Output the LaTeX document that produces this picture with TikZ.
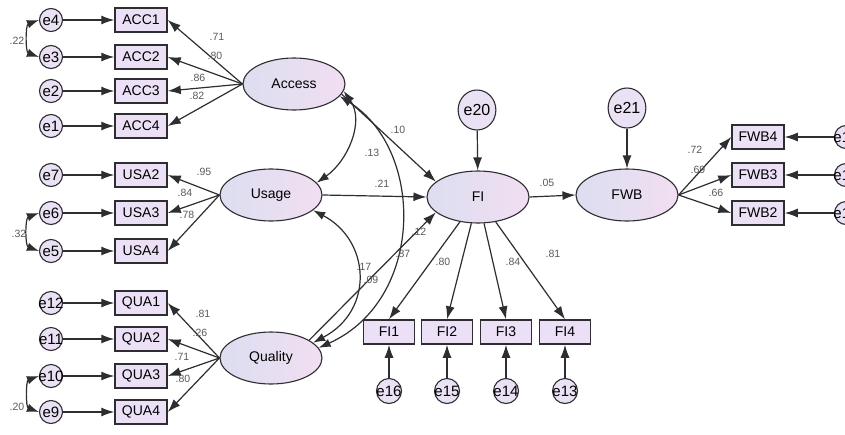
\documentclass[tikz,border=0pt]{standalone}
\usepackage{fontspec}
\setmainfont{Liberation Sans}
\usepackage{tikz}
\usetikzlibrary{positioning,shapes.geometric,arrows.meta}

\definecolor{edge}{RGB}{45,45,50}
\definecolor{boxfill}{RGB}{236,224,246}
\definecolor{ovalL}{RGB}{220,222,240}
\definecolor{ovalR}{RGB}{242,222,242}
\definecolor{errfill}{RGB}{234,226,244}
\definecolor{numtext}{RGB}{90,90,90}

\begin{document}
\begin{tikzpicture}[x=1pt,y=-1pt,
	obs/.style={draw=edge,line width=1.5pt,fill=boxfill,minimum width=52pt,minimum height=24pt,inner sep=0pt,font=\fontsize{14}{14}\selectfont},
	lat/.style={ellipse,draw=edge,line width=1.1pt,left color=ovalL,right color=ovalR,minimum width=102pt,minimum height=52pt,inner sep=0pt,font=\fontsize{14}{14}\selectfont},
	err/.style={circle,draw=edge,line width=1.1pt,fill=errfill,minimum size=23pt,inner sep=0pt,font=\fontsize{15}{15}\selectfont},
	bigerr/.style={ellipse,draw=edge,line width=1.1pt,fill=errfill,minimum width=37pt,minimum height=40pt,inner sep=0pt,font=\fontsize{16}{16}\selectfont},
	lbl/.style={inner sep=0pt,text=numtext,font=\fontsize{10.5}{10.5}\selectfont},
	reg/.style={draw=edge,line width=1.2pt,-{Latex[length=13pt,width=9pt]}},
	cov/.style={draw=edge,line width=1.2pt,{Latex[length=12pt,width=8.5pt]}-{Latex[length=12pt,width=8.5pt]}}]

	\useasboundingbox[fill=white] (0,0) rectangle (845,434);

	% Access block
	\node[err] (e4) at (51,20) {\makebox[0pt]{e4}};
	\node[err] (e3) at (51,57) {\makebox[0pt]{e3}};
	\node[err] (e2) at (51,91) {\makebox[0pt]{e2}};
	\node[err] (e1) at (51,126) {\makebox[0pt]{e1}};
	\node[obs] (ACC1) at (141,20) {ACC1};
	\node[obs] (ACC2) at (141,57) {ACC2};
	\node[obs] (ACC3) at (141,91) {ACC3};
	\node[obs] (ACC4) at (141,126) {ACC4};
	\node[lat] (Access) at (294,84) {Access};

	% Usage block
	\node[err] (e7) at (51,175) {\makebox[0pt]{e7}};
	\node[err] (e6) at (51,213) {\makebox[0pt]{e6}};
	\node[err] (e5) at (51,251) {\makebox[0pt]{e5}};
	\node[obs] (USA2) at (141,175) {USA2};
	\node[obs] (USA3) at (141,213) {USA3};
	\node[obs] (USA4) at (141,251) {USA4};
	\node[lat] (Usage) at (271,195) {Usage};

	% Quality block
	\node[err] (e12) at (51,303) {\makebox[0pt]{e12}};
	\node[err] (e11) at (51,339) {\makebox[0pt]{e11}};
	\node[err] (e10) at (51,376) {\makebox[0pt]{e10}};
	\node[err] (e9) at (51,412) {\makebox[0pt]{e9}};
	\node[obs] (QUA1) at (141,303) {QUA1};
	\node[obs] (QUA2) at (141,339) {QUA2};
	\node[obs] (QUA3) at (141,376) {QUA3};
	\node[obs] (QUA4) at (141,412) {QUA4};
	\node[lat] (Quality) at (271,358) {Quality};

	% FI and FWB
	\node[lat] (FI) at (478,197) {FI};
	\node[bigerr] (e20) at (477,110) {e20};
	\node[obs,minimum width=51pt] (FI1) at (389,332) {FI1};
	\node[obs,minimum width=51pt] (FI2) at (447,332) {FI2};
	\node[obs,minimum width=51pt] (FI3) at (506,332) {FI3};
	\node[obs,minimum width=51pt] (FI4) at (565,332) {FI4};
	\node[err,minimum size=25pt] (e16) at (389,391) {\makebox[0pt]{e16}};
	\node[err,minimum size=25pt] (e15) at (447,391) {\makebox[0pt]{e15}};
	\node[err,minimum size=25pt] (e14) at (506,391) {\makebox[0pt]{e14}};
	\node[err,minimum size=25pt] (e13) at (565,391) {\makebox[0pt]{e13}};

	\node[lat] (FWB) at (627,195) {FWB};
	\node[bigerr] (e21) at (627,108) {e21};
	\node[obs] (FWB4) at (758,137) {FWB4};
	\node[obs] (FWB3) at (758,175) {FWB3};
	\node[obs] (FWB2) at (758,213) {FWB2};
	\node[err] (e19) at (846,137) {\makebox[0pt]{e19}};
	\node[err] (e18) at (846,175) {\makebox[0pt]{e18}};
	\node[err] (e17) at (846,213) {\makebox[0pt]{e17}};

	% error terms
	\draw[reg] (e4) -- (ACC1);
	\draw[reg] (e3) -- (ACC2);
	\draw[reg] (e2) -- (ACC3);
	\draw[reg] (e1) -- (ACC4);
	\draw[reg] (e7) -- (USA2);
	\draw[reg] (e6) -- (USA3);
	\draw[reg] (e5) -- (USA4);
	\draw[reg] (e12) -- (QUA1);
	\draw[reg] (e11) -- (QUA2);
	\draw[reg] (e10) -- (QUA3);
	\draw[reg] (e9) -- (QUA4);
	\draw[reg] (e16) -- (FI1);
	\draw[reg] (e15) -- (FI2);
	\draw[reg] (e14) -- (FI3);
	\draw[reg] (e13) -- (FI4);
	\draw[reg] (e19) -- (FWB4);
	\draw[reg] (e18) -- (FWB3);
	\draw[reg] (e17) -- (FWB2);
	\draw[reg] (e20) -- (FI);
	\draw[reg] (e21) -- (FWB);

	\draw[cov] (e4.west) to[bend right=70] (e3.west);
	\draw[cov] (e6.west) to[bend right=70] (e5.west);
	\draw[cov] (e10.west) to[bend right=70] (e9.west);

	% loadings
	\draw[reg] (Access.west) -- (ACC1.east);
	\draw[reg] (Access.west) -- (ACC2.east);
	\draw[reg] (Access.west) -- (ACC3.east);
	\draw[reg] (Access.west) -- (ACC4.east);
	\draw[reg] (Usage.west) -- (USA2.east);
	\draw[reg] (Usage.west) -- (USA3.east);
	\draw[reg] (Usage.west) -- (USA4.east);
	\draw[reg] (Quality.west) -- (QUA1.east);
	\draw[reg] (Quality.west) -- (QUA2.east);
	\draw[reg] (Quality.west) -- (QUA3.east);
	\draw[reg] (Quality.west) -- (QUA4.east);
	\draw[reg] (FI) -- (FI1.north);
	\draw[reg] (FI) -- (FI2.north);
	\draw[reg] (FI) -- (FI3.north);
	\draw[reg] (FI) -- (FI4.north);
	\draw[reg] (FWB.east) -- (FWB4.west);
	\draw[reg] (FWB.east) -- (FWB3.west);
	\draw[reg] (FWB.east) -- (FWB2.west);

	% structural part
	\draw[reg] (Access.-12) -- (FI.160);
	\draw[reg] (Usage.east) -- (FI.west);
	\draw[reg] (Quality.25) -- (FI.200);
	\draw[reg] (FI.east) -- (FWB.west);
	\draw[cov] (Access.-8) to[out=-55,in=35] (Usage.15);
	\draw[cov] (Access.-15) .. controls (425,150) and (425,300) .. (Quality.12);
	\draw[cov] (Usage.-20) .. controls (370,240) and (375,310) .. (Quality.20);

	% estimates
	\node[lbl] (w22) at (17,41) {.22};
	\node[lbl] (w32) at (19,234) {.32};
	\node[lbl] (w20) at (17,407) {.20};
	\node[lbl] (wAcc1) at (217,37) {.71};
	\node[lbl] (wAcc2) at (215,56) {.80};
	\node[lbl] (wAcc3) at (198,78) {.86};
	\node[lbl] (wAcc4) at (197,96) {.82};
	\node[lbl] (wUsa2) at (204,172) {.95};
	\node[lbl] (wUsa3) at (185,193) {.84};
	\node[lbl] (wUsa4) at (187,215) {.78};
	\node[lbl] (wQua1) at (203,314) {.81};
	\node[lbl] (wQua2) at (200,333) {.26};
	\node[lbl] (wQua3) at (182,357) {.71};
	\node[lbl] (wQua4) at (183,379) {.80};
	\node[lbl] (wAccFI) at (398,130) {.10};
	\node[lbl] (cAccUsa) at (372,153) {.13};
	\node[lbl] (wUsaFI) at (382,184) {.21};
	\node[lbl] (cUsaQua) at (364,267) {.17};
	\node[lbl] (cAccQua) at (371,280) {.09};
	\node[lbl] (wQuaFI) at (419,232) {.12};
	\node[lbl] (wFI1) at (403,254) {.87};
	\node[lbl] (wFI2) at (443,262) {.80};
	\node[lbl] (wFI3) at (513,262) {.84};
	\node[lbl] (wFI4) at (553,254) {.81};
	\node[lbl] (wFIFWB) at (547,183) {.05};
	\node[lbl] (wFwb4) at (695,150) {.72};
	\node[lbl] (wFwb3) at (698,170) {.69};
	\node[lbl] (wFwb2) at (716,193) {.66};
\end{tikzpicture}
\end{document}
